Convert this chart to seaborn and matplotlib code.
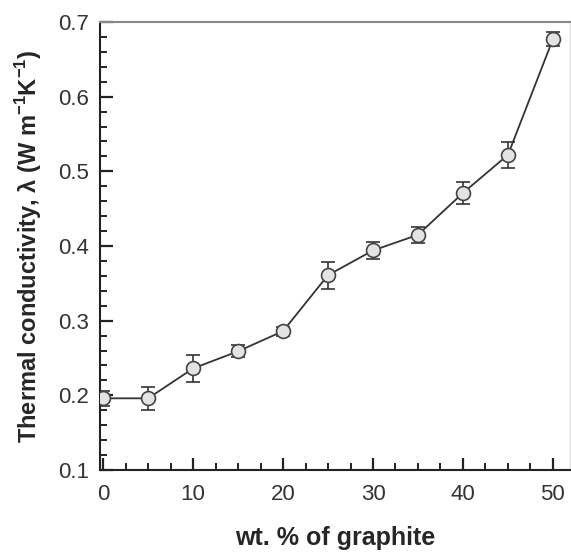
import matplotlib
matplotlib.use("Agg")
import matplotlib.pyplot as plt
import seaborn as sns
import pandas as pd
from matplotlib.ticker import MultipleLocator

graphite_wt = [0, 5, 10, 15, 20, 25, 30, 35, 40, 45, 50]
conductivity = [0.196, 0.196, 0.236, 0.259, 0.286, 0.361, 0.394, 0.415, 0.471, 0.522, 0.677]
error = [0.010, 0.015, 0.018, 0.008, 0.006, 0.018, 0.012, 0.011, 0.015, 0.017, 0.009]

df = pd.DataFrame({"x": graphite_wt, "y": conductivity, "err": error})

sns.set_theme(style="white")
plt.rcParams["font.family"] = ["Liberation Sans", "DejaVu Sans"]
plt.rcParams["mathtext.fontset"] = "custom"
plt.rcParams["mathtext.rm"] = "Liberation Sans"
plt.rcParams["mathtext.bf"] = "Liberation Sans:bold"

fig = plt.figure(figsize=(5.71, 5.52), dpi=100)
ax = fig.add_axes([100 / 571, 1 - 470 / 552, 470 / 571, 448 / 552])

ax.errorbar(df["x"], df["y"], yerr=df["err"], fmt="none", ecolor="#333333",
            elinewidth=1.2, capsize=5, capthick=1.2, zorder=2)
sns.lineplot(data=df, x="x", y="y", ax=ax, color="#333333", linewidth=1.3,
             marker="o", markersize=10, markerfacecolor="#e3e3e3",
             markeredgecolor="#444444", markeredgewidth=1.2, zorder=3)

ax.set_xlim(-0.35, 51.9)
ax.set_ylim(0.1, 0.7)
ax.xaxis.set_major_locator(MultipleLocator(10))
ax.xaxis.set_minor_locator(MultipleLocator(2.5))
ax.yaxis.set_major_locator(MultipleLocator(0.1))
ax.yaxis.set_minor_locator(MultipleLocator(0.02))
ax.tick_params(axis="both", which="both", bottom=True, left=True, top=False, right=False)
ax.tick_params(axis="both", which="major", direction="in", length=9, width=1.6,
               labelsize=16, colors="#222222")
ax.tick_params(axis="x", which="major", pad=10)
ax.tick_params(axis="y", which="major", pad=8)
ax.tick_params(axis="both", which="minor", direction="in", length=5, width=1.4,
               colors="#222222")
ax.tick_params(axis="both", labelcolor="#333333")
ax.set_yticks([0.1, 0.2, 0.3, 0.4, 0.5, 0.6, 0.7])
ax.set_yticklabels(["0.1", "0.2", "0.3", "0.4", "0.5", "0.6", "0.7"])

for side in ["left", "bottom"]:
    ax.spines[side].set_color("#222222")
    ax.spines[side].set_linewidth(1.5)
ax.spines["top"].set_color("#888888")
ax.spines["top"].set_linewidth(1.5)
ax.spines["right"].set_color("#dddddd")
ax.spines["right"].set_linewidth(1.0)

ax.set_xlabel("wt. % of graphite", fontsize=18, fontweight="bold", labelpad=15)
ax.set_ylabel(r"Thermal conductivity, $\mathregular{\lambda}$ (W m$^{\mathbf{-1}}$K$^{\mathbf{-1}}$)",
              fontsize=17, fontweight="bold", labelpad=10)

fig.savefig("out.png", dpi=100)
